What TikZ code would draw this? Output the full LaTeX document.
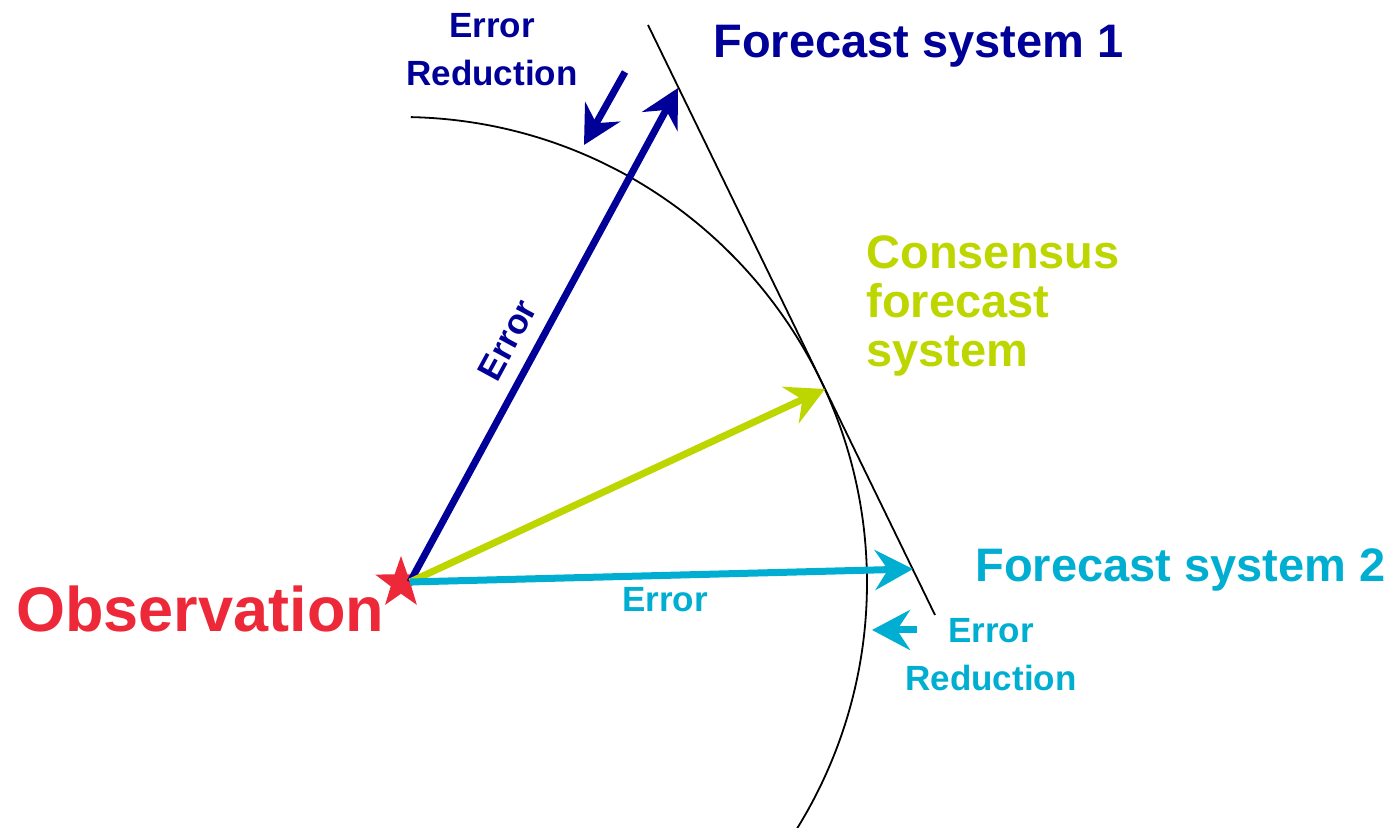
\documentclass[tikz,border=0pt]{standalone}
\usepackage{fontspec}
\setmainfont{Liberation Sans}
\usetikzlibrary{arrows.meta, positioning, shapes.geometric}

\definecolor{fcblue}{RGB}{0,0,153}
\definecolor{fccyan}{RGB}{0,174,209}
\definecolor{fcgreen}{RGB}{190,214,0}
\definecolor{obsred}{RGB}{237,41,57}

\begin{document}
\begin{tikzpicture}[
  x=0.5pt, y=0.5pt,
  vec/.style={line width=3.5pt, -{Stealth[length=19pt, width=20pt, inset=6.5pt]}},
  guide/.style={line width=0.9pt, black},
  biglabel/.style={font=\fontsize{23.5}{24.5}\selectfont\bfseries, inner sep=0pt},
  smalllabel/.style={font=\fontsize{17.5}{24}\selectfont\bfseries, inner sep=0pt, align=center}
]
  \useasboundingbox (0,0) rectangle (1392,828);

  % observation
  \node[star, star points=5, star point ratio=2.5, fill=obsred, inner sep=0pt,
        minimum size=27pt] (obs) at (401,245) {};
  \node[font=\fontsize{31.5}{36}\selectfont\bfseries, inner sep=0pt, text=obsred,
        anchor=base west] (obslbl) at (16,196) {Observation};

  % circle of equal error and tangent
  \draw[guide] (obs.center) ++(88.8:466) arc[start angle=88.8, end angle=-31.8, radius=466];
  \coordinate (t1) at (648,803);
  \coordinate (t2) at (935,213);
  \draw[guide] (t1) -- (t2);

  % forecast vectors
  \coordinate (o)    at (410,246);
  \coordinate (f1)   at (678,740);
  \coordinate (f2)   at (913,259);
  \coordinate (cons) at (825,439);
  \draw[vec, fcblue]  (o) -- (f1);
  \draw[vec, fcgreen] (o) -- (cons);
  \draw[vec, fccyan]  (o) -- (f2);

  % error reduction arrows
  \coordinate (r1a) at (625,756);
  \coordinate (r1b) at (584,683);
  \coordinate (r2a) at (917,198);
  \coordinate (r2b) at (872,198);
  \draw[vec, fcblue] (r1a) -- (r1b);
  \draw[vec, fccyan] (r2a) -- (r2b);

  % labels
  \node[biglabel, text=fcblue, anchor=base west] (fs1) at (713,770) {Forecast system 1};
  \node[biglabel, text=fccyan, anchor=base west] (fs2) at (975,246) {Forecast system 2};
  \node[biglabel, text=fcgreen, anchor=north west, align=left] (cfs) at (866,593)
       {Consensus\\forecast\\system};
  \node[smalllabel, text=fcblue, anchor=north] (red1) at (492,815) {Error\\Reduction};
  \node[smalllabel, text=fccyan, anchor=north] (red2) at (991,210) {Error\\Reduction};
  \node[smalllabel, text=fcblue, rotate=61.5] (err1) at (507,488) {Error};
  \node[smalllabel, text=fccyan, anchor=base west] (err2) at (622,216) {Error};
\end{tikzpicture}
\end{document}
